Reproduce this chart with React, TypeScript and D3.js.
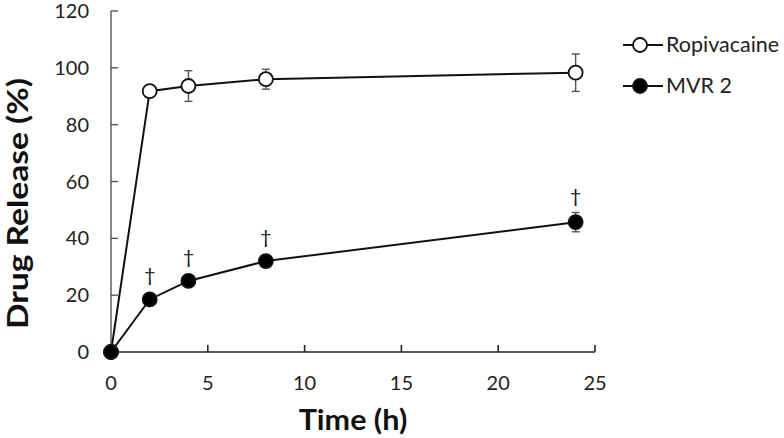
import React from "react";
import * as d3 from "d3";

const times = [0, 2, 4, 8, 24];
const ropivacaine = [0, 91.8, 93.6, 96.0, 98.3];
const ropivacaineErr = [0, 0, 5.4, 3.5, 6.6];
const mvr2 = [0, 18.5, 25.0, 32.0, 45.7];
const mvr2Err = [0, 0.8, 1.2, 1.2, 3.4];
const daggerIdx = [1, 2, 3, 4];
const xTicks = [0, 5, 10, 15, 20, 25];
const yTicks = [0, 20, 40, 60, 80, 100, 120];
const seriesNames = ["Ropivacaine", "MVR 2"];

const W = 784, H = 438;
const FONT = "Lato, 'Open Sans', sans-serif";

export default function App() {
  const x = d3.scaleLinear().domain([0, 25]).range([111, 595]);
  const y = d3.scaleLinear().domain([0, 120]).range([352, 11]);
  const line = d3.line<number>().x((_, i) => x(times[i])).y((v) => y(v));
  const r = 7;
  const series = [
    { vals: ropivacaine, err: ropivacaineErr, fill: "#fff" },
    { vals: mvr2, err: mvr2Err, fill: "#000" },
  ];
  return (
    <svg width={W} height={H} style={{ position: "absolute", left: 0, top: 0, background: "#fff" }} fontFamily={FONT}>
      {/* axes */}
      <line x1={x(0)} x2={x(0)} y1={y(0)} y2={y(120)} stroke="#555" strokeWidth={1.4} />
      <line x1={x(0)} x2={x(25)} y1={y(0)} y2={y(0)} stroke="#222" strokeWidth={1.6} />
      {yTicks.map((t) => (
        <g key={"y" + t}>
          <line x1={x(0)} x2={x(0) + 7} y1={y(t)} y2={y(t)} stroke="#555" strokeWidth={1.4} />
          <text x={x(0) - 22} y={y(t) + 7} textAnchor="end" fontSize={20} fill="#222">{t}</text>
        </g>
      ))}
      {xTicks.map((t) => (
        <g key={"x" + t}>
          <line x1={x(t)} x2={x(t)} y1={y(0)} y2={y(0) - 7} stroke="#222" strokeWidth={1.6} />
          <text x={x(t)} y={y(0) + 38} textAnchor="middle" fontSize={20} fill="#222">{t}</text>
        </g>
      ))}
      <text transform="translate(353,430) scale(1.09,1)" textAnchor="middle" fontSize={28} fontWeight="bold" fill="#111">Time (h)</text>
      <text transform={`translate(28,${203.5}) rotate(-90) scale(1.2,1)`} textAnchor="middle" fontSize={28} fontWeight="bold" fill="#111">Drug Release (%)</text>
      {/* series */}
      {series.map((s, si) => (
        <g key={"s" + si}>
          <path d={line(s.vals) || ""} fill="none" stroke="#111" strokeWidth={2} />
          {s.vals.map((v, i) =>
            s.err[i] > 0 ? (
              <g key={"e" + i} stroke="#555" strokeWidth={1.4}>
                <line x1={x(times[i])} x2={x(times[i])} y1={y(v + s.err[i])} y2={y(v - s.err[i])} />
                <line x1={x(times[i]) - 4} x2={x(times[i]) + 4} y1={y(v + s.err[i])} y2={y(v + s.err[i])} />
                <line x1={x(times[i]) - 4} x2={x(times[i]) + 4} y1={y(v - s.err[i])} y2={y(v - s.err[i])} />
              </g>
            ) : null
          )}
          {s.vals.map((v, i) => (
            <circle key={"c" + i} cx={x(times[i])} cy={y(v)} r={r} fill={s.fill} stroke="#111" strokeWidth={1.8} />
          ))}
        </g>
      ))}
      {/* daggers */}
      {daggerIdx.map((i) => (
        <text key={"d" + i} x={x(times[i])} y={Math.min(y(mvr2[i]) - 17, y(mvr2[i] + mvr2Err[i]) - 9)} textAnchor="middle" fontSize={20} fill="#111">†</text>
      ))}
      {/* legend */}
      {seriesNames.map((n, i) => (
        <g key={"l" + i} transform={`translate(0,${45 + i * 41})`}>
          <line x1={623} x2={663} y1={0} y2={0} stroke="#111" strokeWidth={2} />
          <circle cx={640} cy={0} r={r} fill={series[i].fill} stroke="#111" strokeWidth={1.8} />
          <text x={666} y={7} fontSize={21.5} fill="#222">{n}</text>
        </g>
      ))}
    </svg>
  );
}
